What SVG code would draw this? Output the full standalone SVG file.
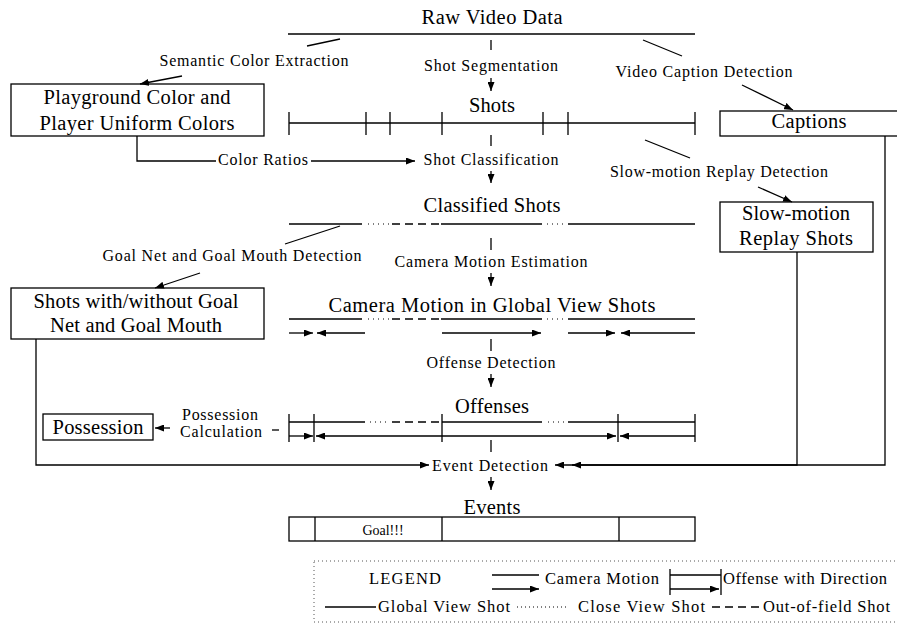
<svg xmlns="http://www.w3.org/2000/svg" width="897" height="625" viewBox="0 0 897 625">
  <style>
    text { font-family: "Liberation Serif", "Times New Roman", serif; fill: #000; }
    .big { font-size: 20.5px; }
    .lab { font-size: 16px; }
    .mid { font-size: 16.5px; }
    .ln { stroke: #000; stroke-width: 1.3; fill: none; }
    .dot { stroke: #000; stroke-width: 1.1; fill: none; stroke-dasharray: 1 4; }
    .dash { stroke: #000; stroke-width: 1.3; fill: none; stroke-dasharray: 8 5; }
    .box { fill: #fff; stroke: #000; stroke-width: 1.3; }
    .arr { stroke: #000; stroke-width: 1.3; fill: none; marker-end: url(#ah); }
    .legbox { fill: none; stroke: #555; stroke-width: 1; stroke-dasharray: 1 3; }
  </style>
  <defs>
    <marker id="ah" markerUnits="userSpaceOnUse" markerWidth="9" markerHeight="7" refX="9" refY="3.5" orient="auto">
      <path d="M0,0 L9,3.5 L0,7 z" fill="#000"/>
    </marker>
    <marker id="ahs" markerUnits="userSpaceOnUse" markerWidth="9" markerHeight="7" refX="0" refY="3.5" orient="auto">
      <path d="M9,0 L0,3.5 L9,7 z" fill="#000"/>
    </marker>
  </defs>

  <!-- raw video stream -->
  <g id="raw">
    <text class="big" x="492" y="24" text-anchor="middle" textLength="141" lengthAdjust="spacing">Raw Video Data</text>
    <line class="ln" x1="288" y1="34" x2="695" y2="34"/>
  </g>

  <!-- segmented shots -->
  <g id="shots">
    <text class="big" x="492" y="112" text-anchor="middle" textLength="46" lengthAdjust="spacing">Shots</text>
    <line class="ln" x1="289" y1="123" x2="695" y2="123"/>
    <path class="ln" d="M289,112V135 M366,112V135 M390,112V135 M442,112V135 M543,112V135 M568,112V135 M695,112V135"/>
  </g>

  <!-- classified shots -->
  <g id="classified">
    <text class="big" x="492" y="212" text-anchor="middle" textLength="137" lengthAdjust="spacing">Classified Shots</text>
    <line class="ln" x1="289" y1="224" x2="362" y2="224"/>
    <line class="dot" x1="368" y1="224" x2="389" y2="224"/>
    <line class="dash" x1="392" y1="224" x2="440" y2="224"/>
    <line class="ln" x1="441" y1="224" x2="542" y2="224"/>
    <line class="dot" x1="547" y1="224" x2="564" y2="224"/>
    <line class="ln" x1="568" y1="224" x2="695" y2="224"/>
  </g>

  <!-- camera motion row -->
  <g id="camera">
    <text class="big" x="492" y="312" text-anchor="middle" textLength="327" lengthAdjust="spacing">Camera Motion in Global View Shots</text>
    <line class="ln" x1="289" y1="319" x2="362" y2="319"/>
    <line class="dot" x1="368" y1="319" x2="389" y2="319"/>
    <line class="dash" x1="392" y1="319" x2="440" y2="319"/>
    <line class="ln" x1="441" y1="319" x2="542" y2="319"/>
    <line class="dot" x1="547" y1="319" x2="564" y2="319"/>
    <line class="ln" x1="568" y1="319" x2="695" y2="319"/>
    <line class="arr" x1="289" y1="333" x2="313" y2="333"/>
    <line class="arr" x1="365" y1="333" x2="317" y2="333"/>
    <line class="arr" x1="442" y1="333" x2="541" y2="333"/>
    <line class="arr" x1="568" y1="333" x2="615" y2="333"/>
    <line class="arr" x1="695" y1="333" x2="621" y2="333"/>
  </g>

  <!-- offenses row -->
  <g id="offenses">
    <text class="big" x="492" y="413" text-anchor="middle" textLength="74" lengthAdjust="spacing">Offenses</text>
    <line class="ln" x1="289" y1="422" x2="365" y2="422"/>
    <line class="dot" x1="370" y1="422" x2="389" y2="422"/>
    <line class="dash" x1="392" y1="422" x2="440" y2="422"/>
    <line class="ln" x1="442" y1="422" x2="542" y2="422"/>
    <line class="dot" x1="548" y1="422" x2="564" y2="422"/>
    <line class="ln" x1="568" y1="422" x2="695" y2="422"/>
    <path class="ln" d="M289,414V442 M314,414V442 M442,414V442 M618,414V442 M695,414V442"/>
    <line class="arr" x1="289" y1="436" x2="313" y2="436"/>
    <line class="ln" x1="316" y1="436" x2="616" y2="436" marker-start="url(#ahs)" marker-end="url(#ah)"/>
    <line class="arr" x1="695" y1="436" x2="620" y2="436"/>
  </g>

  <!-- detected events -->
  <g id="events">
    <text class="big" x="492" y="514" text-anchor="middle" textLength="57" lengthAdjust="spacing">Events</text>
    <rect class="box" x="289" y="517" width="406" height="24"/>
    <path class="ln" d="M315,517V541 M442,517V541 M619,517V541"/>
    <text x="383" y="535" text-anchor="middle" style="font-size:14px">Goal!!!</text>
  </g>

  <!-- side result boxes -->
  <g id="colors">
    <rect class="box" x="11" y="84" width="253" height="52"/>
    <text class="big" x="137" y="104" text-anchor="middle" textLength="187" lengthAdjust="spacing">Playground Color and</text>
    <text class="big" x="137" y="130" text-anchor="middle" textLength="195" lengthAdjust="spacing">Player Uniform Colors</text>
  </g>
  <g id="captions">
    <rect class="box" x="720" y="111" width="180" height="25"/>
    <text class="big" x="809" y="128" text-anchor="middle" textLength="75" lengthAdjust="spacing">Captions</text>
  </g>
  <g id="replay">
    <rect class="box" x="720" y="202" width="153" height="50"/>
    <text class="big" x="796" y="220" text-anchor="middle" textLength="108" lengthAdjust="spacing">Slow-motion</text>
    <text class="big" x="796" y="245" text-anchor="middle" textLength="114" lengthAdjust="spacing">Replay Shots</text>
  </g>
  <g id="goalnet">
    <rect class="box" x="11" y="288" width="253" height="51"/>
    <text class="big" x="136" y="308" text-anchor="middle" textLength="205" lengthAdjust="spacing">Shots with/without Goal</text>
    <text class="big" x="136" y="332" text-anchor="middle" textLength="172" lengthAdjust="spacing">Net and Goal Mouth</text>
  </g>
  <g id="possession">
    <rect class="box" x="43" y="414" width="110" height="26"/>
    <text class="big" x="98" y="434" text-anchor="middle" textLength="91" lengthAdjust="spacing">Possession</text>
  </g>

  <!-- process labels -->
  <g id="labels">
    <text class="lab" x="254" y="66" text-anchor="middle" textLength="189" lengthAdjust="spacing">Semantic Color Extraction</text>
    <text class="lab" x="491" y="71" text-anchor="middle" textLength="134" lengthAdjust="spacing">Shot Segmentation</text>
    <text class="lab" x="704" y="77" text-anchor="middle" textLength="177" lengthAdjust="spacing">Video Caption Detection</text>
    <text class="lab" x="263" y="165" text-anchor="middle" textLength="90" lengthAdjust="spacing">Color Ratios</text>
    <text class="lab" x="491" y="165" text-anchor="middle" textLength="135" lengthAdjust="spacing">Shot Classification</text>
    <text class="lab" x="719" y="177" text-anchor="middle" textLength="218" lengthAdjust="spacing">Slow-motion Replay Detection</text>
    <text class="lab" x="232" y="261" text-anchor="middle" textLength="259" lengthAdjust="spacing">Goal Net and Goal Mouth Detection</text>
    <text class="lab" x="491" y="267" text-anchor="middle" textLength="193" lengthAdjust="spacing">Camera Motion Estimation</text>
    <text class="lab" x="491" y="368" text-anchor="middle" textLength="129" lengthAdjust="spacing">Offense Detection</text>
    <text class="lab" x="220" y="420" text-anchor="middle" textLength="76" lengthAdjust="spacing">Possession</text>
    <text class="lab" x="221" y="437" text-anchor="middle" textLength="82" lengthAdjust="spacing">Calculation</text>
    <text class="lab" x="490" y="471" text-anchor="middle" textLength="116" lengthAdjust="spacing">Event Detection</text>
  </g>

  <!-- connectors -->
  <g id="connectors">
    <!-- main column -->
    <line class="ln" x1="491" y1="40" x2="491" y2="50"/>
    <line class="arr" x1="491" y1="78" x2="491" y2="91"/>
    <line class="ln" x1="491" y1="135" x2="491" y2="146"/>
    <line class="arr" x1="491" y1="171" x2="491" y2="183"/>
    <line class="ln" x1="491" y1="238" x2="491" y2="250"/>
    <line class="arr" x1="491" y1="273" x2="491" y2="286"/>
    <line class="ln" x1="491" y1="339" x2="491" y2="351"/>
    <line class="arr" x1="491" y1="374" x2="491" y2="387"/>
    <line class="ln" x1="491" y1="440" x2="491" y2="452"/>
    <line class="arr" x1="491" y1="477" x2="491" y2="490"/>
    <!-- semantic colour extraction -->
    <line class="ln" x1="340" y1="39" x2="307" y2="46"/>
    <line class="arr" x1="182" y1="76" x2="140" y2="84"/>
    <!-- colour ratios -->
    <polyline class="ln" points="137,136 137,161 216,161"/>
    <line class="arr" x1="311" y1="161" x2="415" y2="161"/>
    <!-- caption detection -->
    <line class="ln" x1="643" y1="40" x2="682" y2="56"/>
    <line class="arr" x1="742" y1="85" x2="793" y2="110"/>
    <!-- replay detection -->
    <line class="ln" x1="645" y1="140" x2="690" y2="158"/>
    <line class="arr" x1="758" y1="187" x2="792" y2="202"/>
    <!-- goal net detection -->
    <line class="ln" x1="340" y1="226" x2="285" y2="244"/>
    <line class="arr" x1="200" y1="273" x2="155" y2="288"/>
    <!-- possession calculation -->
    <line class="ln" x1="272" y1="430" x2="279" y2="430"/>
    <line class="arr" x1="170" y1="428" x2="155" y2="428"/>
    <!-- event detection inputs -->
    <polyline class="ln" points="36,339 36,465 429,465" marker-end="url(#ah)"/>
    <polyline class="ln" points="885,136 885,465 555,465" marker-end="url(#ah)"/>
    <polyline class="ln" points="797,252 797,465 572,465" marker-end="url(#ah)"/>
  </g>

  <!-- legend -->
  <g id="legend">
    <rect class="legbox" x="314" y="561" width="590" height="61"/>
    <text class="mid" x="405" y="584" text-anchor="middle" textLength="72" lengthAdjust="spacing">LEGEND</text>
    <line class="ln" x1="492" y1="575" x2="539" y2="575"/>
    <line class="arr" x1="492" y1="589" x2="539" y2="589"/>
    <text class="mid" x="545" y="584" textLength="114" lengthAdjust="spacing">Camera Motion</text>
    <path class="ln" d="M670,569V595 M721,569V595 M670,575H721"/>
    <line class="arr" x1="670" y1="589" x2="719" y2="589"/>
    <text class="mid" x="723" y="584" textLength="164" lengthAdjust="spacing">Offense with Direction</text>
    <line class="ln" x1="325" y1="607" x2="376" y2="607"/>
    <text class="mid" x="378" y="612" textLength="132" lengthAdjust="spacing">Global View Shot</text>
    <line class="dot" x1="517" y1="607" x2="569" y2="607" style="stroke-dasharray:1 3"/>
    <text class="mid" x="578" y="612" textLength="127" lengthAdjust="spacing">Close View Shot</text>
    <line class="ln" x1="712" y1="607" x2="761" y2="607" style="stroke-dasharray:8 5"/>
    <text class="mid" x="763" y="612" textLength="127" lengthAdjust="spacing">Out-of-field Shot</text>
  </g>
</svg>
